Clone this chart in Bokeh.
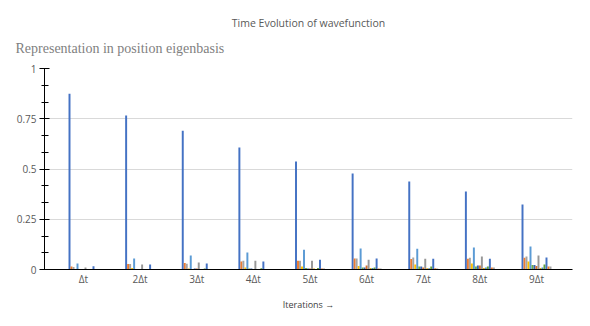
from bokeh.plotting import figure
from bokeh.models import Range1d, FixedTicker, Title, ColumnDataSource
from bokeh.transform import dodge
from bokeh.embed import file_html
from bokeh.resources import INLINE

# Categories (iterations)
categories = ["Δt", "2Δt", "3Δt", "4Δt", "5Δt", "6Δt", "7Δt", "8Δt", "9Δt"]
cat_index = [1, 2, 3, 4, 5, 6, 7, 8, 9]

# Probability in each position basis state, per iteration
pos_1 = [0.875, 0.766, 0.690, 0.607, 0.537, 0.478, 0.438, 0.388, 0.323]
pos_2 = [0.015, 0.027, 0.032, 0.040, 0.043, 0.055, 0.052, 0.053, 0.058]
pos_3 = [0.012, 0.027, 0.028, 0.043, 0.043, 0.055, 0.060, 0.058, 0.065]
pos_4 = [0.000, 0.007, 0.005, 0.010, 0.015, 0.017, 0.025, 0.030, 0.040]
pos_5 = [0.030, 0.055, 0.070, 0.085, 0.098, 0.105, 0.103, 0.110, 0.115]
pos_6 = [0.000, 0.000, 0.003, 0.005, 0.008, 0.010, 0.015, 0.015, 0.023]
pos_7 = [0.000, 0.000, 0.005, 0.005, 0.005, 0.010, 0.015, 0.020, 0.022]
pos_8 = [0.000, 0.000, 0.005, 0.003, 0.005, 0.020, 0.010, 0.020, 0.017]
pos_9 = [0.010, 0.025, 0.035, 0.043, 0.043, 0.048, 0.053, 0.065, 0.070]
pos_10 = [0.000, 0.000, 0.000, 0.003, 0.005, 0.007, 0.006, 0.007, 0.008]
pos_11 = [0.000, 0.000, 0.000, 0.003, 0.003, 0.007, 0.006, 0.010, 0.010]
pos_12 = [0.000, 0.000, 0.005, 0.006, 0.008, 0.010, 0.015, 0.015, 0.025]
pos_13 = [0.016, 0.025, 0.030, 0.040, 0.048, 0.055, 0.053, 0.053, 0.060]
pos_14 = [0.000, 0.000, 0.000, 0.000, 0.005, 0.005, 0.006, 0.010, 0.015]
pos_15 = [0.000, 0.000, 0.000, 0.000, 0.005, 0.005, 0.005, 0.010, 0.015]

series = [pos_1, pos_2, pos_3, pos_4, pos_5, pos_6, pos_7, pos_8,
          pos_9, pos_10, pos_11, pos_12, pos_13, pos_14, pos_15]
colors = ["#4472C4", "#ED7D31", "#A5A5A5", "#FFC000", "#5B9BD5", "#70AD47",
          "#3A64B0", "#D9702A", "#989898", "#E6AD00", "#4E8CC4", "#62A03E",
          "#4472C4", "#ED7D31", "#A5A5A5"]

y_major = [0, 0.25, 0.5, 0.75, 1]
y_labels = ["0", "0.25", "0.5", "0.75", "1"]

title_text = "Time Evolution of wavefunction"
subtitle_text = "Representation in position eigenbasis"

data = {"idx": cat_index}
for j, s in enumerate(series):
    data[f"s{j}"] = s
src = ColumnDataSource(data)

p = figure(frame_width=528, frame_height=201,
           x_range=Range1d(0.3113, 9.6358), y_range=Range1d(0, 1),
           output_backend="svg", toolbar_location=None,
           min_border_left=44, min_border_right=10,
           min_border_top=68, min_border_bottom=30)
p.outline_line_color = None
p.background_fill_color = "white"

bw = 0.0353
n = len(series)
for j in range(n):
    p.vbar(x=dodge("idx", (j - (n - 1) / 2) * bw, range=p.x_range),
           top=f"s{j}", width=bw * 0.98, source=src,
           fill_color=colors[j], line_color=None)

# Titles
sub = Title(text=subtitle_text, align="left", vertical_align="top",
            text_font="Liberation Serif", text_font_size="14px",
            text_font_style="normal", text_color="#7f7f7f", offset=-29,
            standoff=22)
p.add_layout(sub, "above")
main = Title(text=title_text, align="center", vertical_align="bottom",
             text_font="Open Sans", text_font_size="10.5px",
             text_font_style="normal", text_color="#595959", offset=-13,
             standoff=0)
p.add_layout(main, "above")

# Y axis
p.yaxis.ticker = FixedTicker(ticks=y_major, minor_ticks=[k / 12 for k in range(13)])
p.yaxis.major_label_overrides = {float(t): l for t, l in zip(y_major, y_labels)}
p.yaxis.axis_line_color = "black"
p.yaxis.major_tick_line_color = "black"
p.yaxis.minor_tick_line_color = "black"
p.yaxis.major_tick_out = 5
p.yaxis.major_tick_in = 5
p.yaxis.minor_tick_out = 3
p.yaxis.minor_tick_in = 4
p.yaxis.major_label_standoff = 3
p.yaxis.major_label_text_font = "Open Sans"
p.yaxis.major_label_text_font_size = "10px"
p.yaxis.major_label_text_color = "#595959"

# X axis
p.xaxis.ticker = FixedTicker(ticks=cat_index, minor_ticks=[])
p.xaxis.major_label_overrides = {i: c for i, c in zip(cat_index, categories)}
p.xaxis.axis_line_color = "black"
p.xaxis.major_tick_line_color = None
p.xaxis.minor_tick_line_color = None
p.xaxis.major_tick_out = 0
p.xaxis.major_tick_in = 0
p.xaxis.minor_tick_out = 0
p.xaxis.minor_tick_in = 0
p.xaxis.major_label_standoff = 2
p.xaxis.major_label_text_font = "Open Sans"
p.xaxis.major_label_text_font_size = "10px"
p.xaxis.major_label_text_color = "#595959"
p.xaxis.axis_label = "Iterations →"
p.xaxis.axis_label_text_font = "Open Sans"
p.xaxis.axis_label_text_font_size = "9px"
p.xaxis.axis_label_text_font_style = "normal"
p.xaxis.axis_label_text_color = "#404040"
p.xaxis.axis_label_standoff = 9

p.xgrid.visible = False
p.ygrid.grid_line_color = "#d9d9d9"

open("out.html", "w").write(file_html(p, INLINE))
